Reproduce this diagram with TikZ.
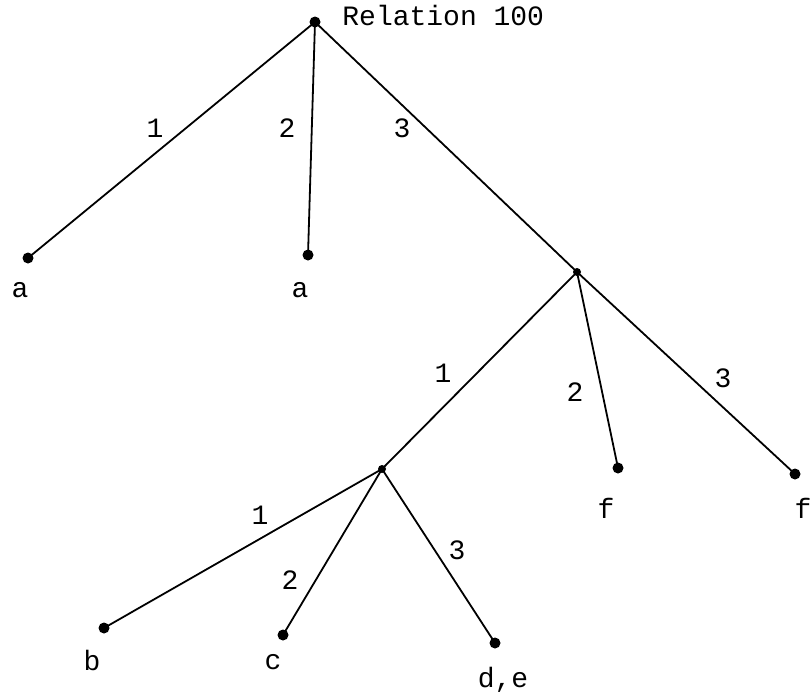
\documentclass[tikz,border=0pt]{standalone}
\usepackage{fontspec}
\setmonofont{Liberation Mono}
\begin{document}
\begin{tikzpicture}[x=0.5pt,y=-0.5pt,
  dot/.style={circle,fill=black,inner sep=0pt,minimum size=5.5pt},
  idot/.style={circle,fill=black,inner sep=0pt,minimum size=4pt},
  edge/.style={line width=0.9pt},
  lab/.style={font=\ttfamily\fontsize{14}{16}\selectfont,inner sep=0pt}]
\useasboundingbox (0,0) rectangle (812,696);
% vertices
\node[dot]  (r)   at (315,22)  {};
\node[dot]  (a1)  at (28,258)  {};
\node[dot]  (a2)  at (308,255) {};
\node[idot] (n3)  at (577,272) {};
\node[idot] (n31) at (382,469) {};
\node[dot]  (f1)  at (618,468) {};
\node[dot]  (f2)  at (795,474) {};
\node[dot]  (b)   at (104,628) {};
\node[dot]  (c)   at (283,635) {};
\node[dot]  (de)  at (495,643) {};
% edges
\draw[edge] (r.center) -- (a1.center);
\draw[edge] (r.center) -- (a2.center);
\draw[edge] (r.center) -- (n3.center);
\draw[edge] (n3.center) -- (n31.center);
\draw[edge] (n3.center) -- (f1.center);
\draw[edge] (n3.center) -- (f2.center);
\draw[edge] (n31.center) -- (b.center);
\draw[edge] (n31.center) -- (c.center);
\draw[edge] (n31.center) -- (de.center);
% vertex labels
\node[lab,anchor=west] (rl) at (342,15) {Relation 100};
\node[lab] (la1) at (20,290) {a};
\node[lab] (la2) at (300,290) {a};
\node[lab] (lf1) at (606,508) {f};
\node[lab] (lf2) at (803,508) {f};
\node[lab] (lb)  at (92,660) {b};
\node[lab] (lc)  at (273,662) {c};
\node[lab] (lde) at (503,680) {d,e};
% edge labels
\node[lab] (e1) at (155,128) {1};
\node[lab] (e2) at (287,128) {2};
\node[lab] (e3) at (402,128) {3};
\node[lab] (e31) at (443,373) {1};
\node[lab] (e32) at (575,392) {2};
\node[lab] (e33) at (723,378) {3};
\node[lab] (e311) at (260,515) {1};
\node[lab] (e312) at (290,580) {2};
\node[lab] (e313) at (457,550) {3};
\end{tikzpicture}
\end{document}
